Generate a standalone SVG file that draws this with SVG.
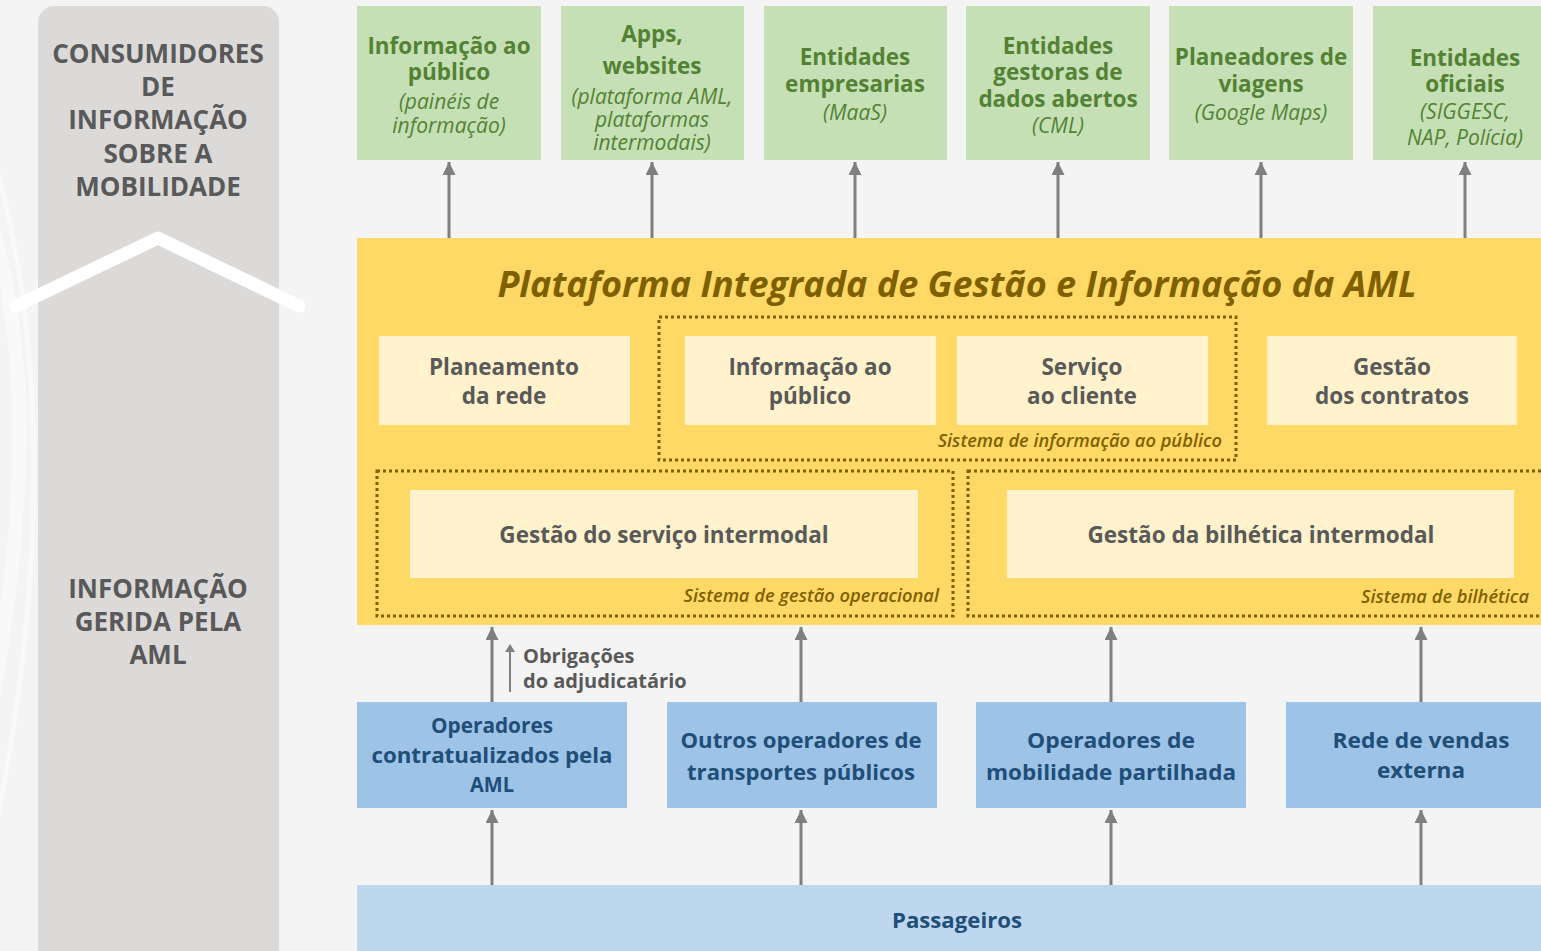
<svg xmlns="http://www.w3.org/2000/svg" width="1541" height="951" viewBox="0 0 1541 951">
<style>
.bg{fill:#f4f4f4}
.side{fill:#dcdad8}
.sidet{font-family:"Open Sans",sans-serif;font-weight:700;font-size:26px;fill:#595959;text-anchor:middle}
.gbox{fill:#c5e0b4}
.gt{font-family:"Open Sans",sans-serif;font-weight:700;font-size:22.5px;fill:#548235;text-anchor:middle}
.gi{font-family:"Open Sans",sans-serif;font-style:italic;font-size:21px;fill:#548235;text-anchor:middle}
.ybox{fill:#ffd966}
.title{font-family:"Open Sans",sans-serif;font-weight:700;font-style:italic;font-size:36px;fill:#7f6000;text-anchor:middle}
.ib{fill:#fff2cc}
.it{font-family:"Open Sans",sans-serif;font-weight:700;font-size:22.5px;fill:#595959;text-anchor:middle}
.dot{fill:none;stroke:#7f6000;stroke-width:3;stroke-dasharray:3 3}
.sys{font-family:"Open Sans",sans-serif;font-weight:600;font-style:italic;font-size:18.3px;fill:#7f6000;text-anchor:end}
.bbox{fill:#9dc3e6}
.bt{font-family:"Open Sans",sans-serif;font-weight:700;font-size:22px;fill:#1f4e79;text-anchor:middle}
.pbox{fill:#bdd7ee}
.conn{stroke:#7f7f7f;stroke-width:3;fill:none;marker-end:url(#ah)}
.note{font-family:"Open Sans",sans-serif;font-weight:700;font-size:20px;fill:#595959}
</style>
<defs>
<marker id="ah" viewBox="0 0 10 10" refX="10" refY="5" markerWidth="13" markerHeight="13" markerUnits="userSpaceOnUse" orient="auto">
<path d="M0,0 L10,5 L0,10 z" fill="#7f7f7f"/>
</marker>
</defs>
<rect class="bg" x="0" y="0" width="1541" height="951"/>
<g id="decor" fill="none" stroke="#ffffff" stroke-opacity="0.45">
<path d="M-60,120 C40,250 40,520 -30,800" stroke-width="14"/>
<path d="M-40,60 C60,300 50,600 -20,900" stroke-width="5"/>
</g>
<g id="side-panel">
<rect class="side" x="38" y="6" width="241" height="965" rx="16"/>
<text class="sidet" x="158" y="63">CONSUMIDORES</text>
<text class="sidet" x="158" y="96">DE</text>
<text class="sidet" x="158" y="129">INFORMAÇÃO</text>
<text class="sidet" x="158" y="163">SOBRE A</text>
<text class="sidet" x="158" y="196">MOBILIDADE</text>
<path d="M16,306 L158,238 L299,306" fill="none" stroke="#ffffff" stroke-width="13" stroke-linecap="round" stroke-linejoin="round"/>
<text class="sidet" x="158" y="598">INFORMAÇÃO</text>
<text class="sidet" x="158" y="631">GERIDA PELA</text>
<text class="sidet" x="158" y="664">AML</text>
</g>
<g id="c1">
<rect class="gbox" x="357" y="6" width="184" height="154"/>
<text class="gt" x="449" y="54">Informação ao</text>
<text class="gt" x="449" y="80">público</text>
<text class="gi" x="449" y="109">(painéis de</text>
<text class="gi" x="449" y="133">informação)</text>
</g>
<g id="c2">
<rect class="gbox" x="561" y="6" width="183" height="154"/>
<text class="gt" x="652" y="42">Apps,</text>
<text class="gt" x="652" y="74">websites</text>
<text class="gi" x="652" y="104">(plataforma AML,</text>
<text class="gi" x="652" y="127">plataformas</text>
<text class="gi" x="652" y="150">intermodais)</text>
</g>
<g id="c3">
<rect class="gbox" x="764" y="6" width="183" height="154"/>
<text class="gt" x="855" y="65">Entidades</text>
<text class="gt" x="855" y="92">empresarias</text>
<text class="gi" x="855" y="120">(MaaS)</text>
</g>
<g id="c4">
<rect class="gbox" x="966" y="6" width="184" height="154"/>
<text class="gt" x="1058" y="54">Entidades</text>
<text class="gt" x="1058" y="80">gestoras de</text>
<text class="gt" x="1058" y="107">dados abertos</text>
<text class="gi" x="1058" y="133">(CML)</text>
</g>
<g id="c5">
<rect class="gbox" x="1169" y="6" width="184" height="154"/>
<text class="gt" x="1261" y="65">Planeadores de</text>
<text class="gt" x="1261" y="92">viagens</text>
<text class="gi" x="1261" y="120">(Google Maps)</text>
</g>
<g id="c6">
<rect class="gbox" x="1373" y="6" width="184" height="154"/>
<text class="gt" x="1465" y="66">Entidades</text>
<text class="gt" x="1465" y="92">oficiais</text>
<text class="gi" x="1465" y="119">(SIGGESC,</text>
<text class="gi" x="1465" y="145">NAP, Polícia)</text>
</g>
<g id="platform">
<rect class="ybox" x="357" y="238" width="1200" height="387"/>
<text class="title" x="957" y="297">Plataforma Integrada de Gestão e Informação da AML</text>
</g>
<g id="sys-info">
<rect class="dot" x="659" y="317" width="577" height="143"/>
<text class="sys" x="1222" y="447">Sistema de informação ao público</text>
</g>
<g id="sys-oper">
<rect class="dot" x="377" y="471" width="576" height="145"/>
<text class="sys" x="939" y="602">Sistema de gestão operacional</text>
</g>
<g id="sys-bilh">
<rect class="dot" x="968" y="471" width="600" height="145"/>
<text class="sys" x="1529" y="603">Sistema de bilhética</text>
</g>
<g id="planeamento">
<rect class="ib" x="379" y="336" width="251" height="89"/>
<text class="it" x="504" y="375">Planeamento</text>
<text class="it" x="504" y="404">da rede</text>
</g>
<g id="info-publico">
<rect class="ib" x="685" y="336" width="251" height="89"/>
<text class="it" x="810" y="375">Informação ao</text>
<text class="it" x="810" y="404">público</text>
</g>
<g id="servico-cliente">
<rect class="ib" x="957" y="336" width="251" height="89"/>
<text class="it" x="1082" y="375">Serviço</text>
<text class="it" x="1082" y="404">ao cliente</text>
</g>
<g id="gestao-contratos">
<rect class="ib" x="1267" y="336" width="250" height="89"/>
<text class="it" x="1392" y="375">Gestão</text>
<text class="it" x="1392" y="404">dos contratos</text>
</g>
<g id="gestao-servico">
<rect class="ib" x="410" y="490" width="508" height="88"/>
<text class="it" x="664" y="543">Gestão do serviço intermodal</text>
</g>
<g id="gestao-bilhetica">
<rect class="ib" x="1007" y="490" width="507" height="88"/>
<text class="it" x="1261" y="543">Gestão da bilhética intermodal</text>
</g>
<g id="op1">
<rect class="bbox" x="357" y="702" width="270" height="106"/>
<text class="bt" x="492" y="733" textLength="122" lengthAdjust="spacingAndGlyphs">Operadores</text>
<text class="bt" x="492" y="763" textLength="241" lengthAdjust="spacingAndGlyphs">contratualizados pela</text>
<text class="bt" x="492" y="792" textLength="44" lengthAdjust="spacingAndGlyphs">AML</text>
</g>
<g id="op2">
<rect class="bbox" x="667" y="702" width="270" height="106"/>
<text class="bt" x="801" y="748" textLength="241" lengthAdjust="spacingAndGlyphs">Outros operadores de</text>
<text class="bt" x="801" y="780" textLength="228" lengthAdjust="spacingAndGlyphs">transportes públicos</text>
</g>
<g id="op3">
<rect class="bbox" x="976" y="702" width="270" height="106"/>
<text class="bt" x="1111" y="748" textLength="168" lengthAdjust="spacingAndGlyphs">Operadores de</text>
<text class="bt" x="1111" y="780" textLength="250" lengthAdjust="spacingAndGlyphs">mobilidade partilhada</text>
</g>
<g id="op4">
<rect class="bbox" x="1286" y="702" width="270" height="106"/>
<text class="bt" x="1421" y="748" textLength="177" lengthAdjust="spacingAndGlyphs">Rede de vendas</text>
<text class="bt" x="1421" y="778" textLength="88" lengthAdjust="spacingAndGlyphs">externa</text>
</g>
<g id="passageiros">
<rect class="pbox" x="357" y="885" width="1200" height="70"/>
<text class="bt" x="957" y="928" textLength="130" lengthAdjust="spacingAndGlyphs">Passageiros</text>
</g>
<g id="connectors">
<line class="conn" x1="449" y1="238" x2="449" y2="162"/>
<line class="conn" x1="652" y1="238" x2="652" y2="162"/>
<line class="conn" x1="855" y1="238" x2="855" y2="162"/>
<line class="conn" x1="1058" y1="238" x2="1058" y2="162"/>
<line class="conn" x1="1261" y1="238" x2="1261" y2="162"/>
<line class="conn" x1="1465" y1="238" x2="1465" y2="162"/>
<line class="conn" x1="492" y1="702" x2="492" y2="627"/>
<line class="conn" x1="801" y1="702" x2="801" y2="627"/>
<line class="conn" x1="1111" y1="702" x2="1111" y2="627"/>
<line class="conn" x1="1421" y1="702" x2="1421" y2="627"/>
<line class="conn" x1="492" y1="885" x2="492" y2="810"/>
<line class="conn" x1="801" y1="885" x2="801" y2="810"/>
<line class="conn" x1="1111" y1="885" x2="1111" y2="810"/>
<line class="conn" x1="1421" y1="885" x2="1421" y2="810"/>
<line x1="510" y1="692" x2="510" y2="650" stroke="#7f7f7f" stroke-width="2"/>
<path d="M505,652 L510,644 L515,652 z" fill="#7f7f7f"/>
<text class="note" x="523" y="663">Obrigações</text>
<text class="note" x="523" y="688">do adjudicatário</text>
</g>
</svg>
